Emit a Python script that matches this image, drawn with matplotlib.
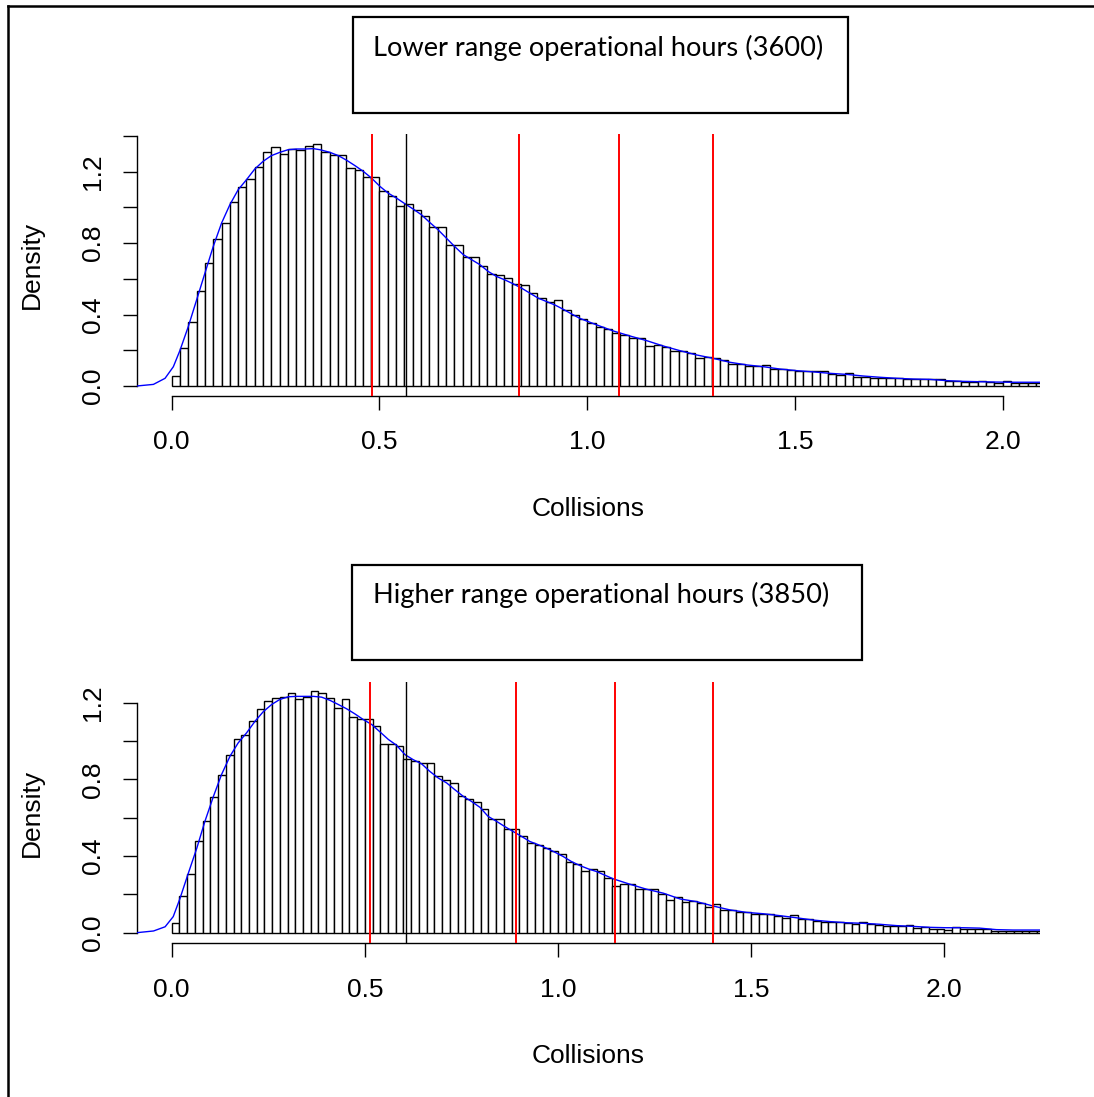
import numpy as np
import matplotlib
matplotlib.use("Agg")
import matplotlib.pyplot as plt
from matplotlib.patches import Rectangle
from matplotlib.lines import Line2D

plt.rcParams['font.family'] = ['Liberation Sans', 'DejaVu Sans']

# ---------------- data ----------------
bin_width = 0.02

top_density = [0.056, 0.211, 0.359, 0.533, 0.688, 0.824, 0.914, 1.028, 1.114, 1.161,
               1.224, 1.308, 1.338, 1.301, 1.327, 1.320, 1.346, 1.355, 1.308, 1.293,
               1.293, 1.219, 1.207, 1.170, 1.170, 1.093, 1.065, 1.006, 1.021, 0.983,
               0.953, 0.890, 0.890, 0.789, 0.789, 0.725, 0.725, 0.673, 0.628, 0.621,
               0.602, 0.572, 0.568, 0.520, 0.490, 0.471, 0.479, 0.426, 0.396, 0.374,
               0.355, 0.333, 0.318, 0.295, 0.288, 0.269, 0.269, 0.224, 0.228, 0.217,
               0.198, 0.194, 0.183, 0.157, 0.164, 0.157, 0.146, 0.123, 0.123, 0.112,
               0.112, 0.120, 0.097, 0.093, 0.090, 0.082, 0.082, 0.082, 0.086, 0.067,
               0.064, 0.075, 0.052, 0.052, 0.045, 0.045, 0.045, 0.045, 0.037, 0.037,
               0.037, 0.037, 0.037, 0.026, 0.026, 0.022, 0.022, 0.030, 0.022, 0.019,
               0.030, 0.019, 0.019, 0.019, 0.019]

bottom_density = [0.049, 0.194, 0.305, 0.476, 0.581, 0.706, 0.825, 0.926, 1.013, 1.031,
                  1.104, 1.165, 1.208, 1.226, 1.229, 1.250, 1.219, 1.229, 1.261, 1.250,
                  1.226, 1.173, 1.217, 1.128, 1.114, 1.116, 1.079, 0.985, 0.985, 0.976,
                  0.908, 0.898, 0.884, 0.884, 0.820, 0.797, 0.779, 0.713, 0.696, 0.680,
                  0.643, 0.595, 0.595, 0.542, 0.539, 0.504, 0.469, 0.455, 0.441, 0.424,
                  0.413, 0.368, 0.361, 0.323, 0.331, 0.323, 0.288, 0.246, 0.253, 0.253,
                  0.228, 0.228, 0.228, 0.202, 0.169, 0.187, 0.159, 0.166, 0.155, 0.134,
                  0.152, 0.120, 0.117, 0.106, 0.106, 0.096, 0.096, 0.099, 0.089, 0.075,
                  0.092, 0.071, 0.071, 0.061, 0.054, 0.054, 0.054, 0.051, 0.047, 0.058,
                  0.047, 0.040, 0.037, 0.033, 0.033, 0.040, 0.026, 0.030, 0.019, 0.019,
                  0.016, 0.030, 0.019, 0.019, 0.019, 0.019, 0.009, 0.009, 0.009, 0.009,
                  0.009, 0.009, 0.009]

top_curve_x = [-0.084, -0.044, -0.016, 0.004, 0.020, 0.040, 0.060, 0.080, 0.100, 0.120,
               0.140, 0.160, 0.180, 0.200, 0.220, 0.240, 0.260, 0.280, 0.301, 0.321,
               0.341, 0.357, 0.381, 0.401, 0.421, 0.441, 0.461, 0.481, 0.501, 0.521,
               0.541, 0.561, 0.581, 0.601, 0.621, 0.641, 0.661, 0.681, 0.702, 0.722,
               0.742, 0.762, 0.782, 0.802, 0.822, 0.842, 0.862, 0.882, 0.902, 0.922,
               0.942, 0.962, 0.982, 1.003, 1.023, 1.063, 1.103, 1.143, 1.183, 1.223,
               1.263, 1.303, 1.343, 1.384, 1.424, 1.464, 1.504, 1.544, 1.584, 1.624,
               1.664, 1.704, 1.745, 1.785, 1.825, 1.865, 1.905, 1.945, 1.985, 2.025,
               2.090]
top_curve_y = [0.000, 0.009, 0.043, 0.108, 0.200, 0.333, 0.482, 0.632, 0.781, 0.912,
               1.015, 1.099, 1.155, 1.215, 1.258, 1.290, 1.308, 1.323, 1.327, 1.327,
               1.329, 1.323, 1.308, 1.290, 1.264, 1.234, 1.202, 1.164, 1.118, 1.080,
               1.052, 1.021, 0.991, 0.959, 0.916, 0.875, 0.828, 0.781, 0.735, 0.707,
               0.679, 0.641, 0.613, 0.594, 0.572, 0.548, 0.520, 0.492, 0.473, 0.454,
               0.430, 0.404, 0.379, 0.360, 0.342, 0.308, 0.280, 0.254, 0.224, 0.198,
               0.174, 0.155, 0.133, 0.118, 0.108, 0.095, 0.086, 0.079, 0.071, 0.065,
               0.056, 0.049, 0.043, 0.039, 0.037, 0.030, 0.026, 0.024, 0.022, 0.021,
               0.021]

bottom_curve_x = [-0.091, -0.047, -0.017, 0.004, 0.021, 0.043, 0.065, 0.086, 0.108, 0.129,
                  0.151, 0.172, 0.194, 0.216, 0.237, 0.259, 0.280, 0.302, 0.323, 0.345,
                  0.367, 0.388, 0.410, 0.431, 0.453, 0.474, 0.496, 0.518, 0.539, 0.561,
                  0.582, 0.604, 0.625, 0.647, 0.668, 0.690, 0.712, 0.733, 0.755, 0.776,
                  0.798, 0.819, 0.841, 0.862, 0.884, 0.906, 0.927, 0.949, 0.970, 0.992,
                  1.013, 1.035, 1.057, 1.081, 1.100, 1.143, 1.186, 1.229, 1.273, 1.316,
                  1.359, 1.402, 1.445, 1.488, 1.531, 1.574, 1.617, 1.660, 1.704, 1.747,
                  1.790, 1.833, 1.876, 1.919, 1.962, 2.005, 2.048, 2.091, 2.135, 2.178,
                  2.248]
bottom_curve_y = [0.000, 0.009, 0.031, 0.084, 0.176, 0.310, 0.441, 0.581, 0.711, 0.825,
                  0.921, 0.990, 1.043, 1.104, 1.153, 1.191, 1.217, 1.231, 1.233, 1.233,
                  1.233, 1.229, 1.212, 1.191, 1.168, 1.142, 1.112, 1.086, 1.048, 1.008,
                  0.978, 0.929, 0.903, 0.881, 0.842, 0.807, 0.781, 0.746, 0.711, 0.685,
                  0.654, 0.607, 0.581, 0.554, 0.528, 0.502, 0.476, 0.459, 0.441, 0.420,
                  0.398, 0.371, 0.350, 0.331, 0.319, 0.281, 0.253, 0.227, 0.206, 0.176,
                  0.162, 0.139, 0.119, 0.106, 0.099, 0.089, 0.078, 0.066, 0.058, 0.052,
                  0.049, 0.044, 0.037, 0.033, 0.028, 0.026, 0.026, 0.024, 0.016, 0.014,
                  0.014]

top_red_lines = [0.483, 0.836, 1.076, 1.303]
top_black_lines = [0.565]
bottom_red_lines = [0.514, 0.891, 1.147, 1.401]
bottom_black_lines = [0.607]

x_ticks = [0.0, 0.5, 1.0, 1.5, 2.0]
x_tick_labels = ["0.0", "0.5", "1.0", "1.5", "2.0"]
top_y_ticks = [0.0, 0.2, 0.4, 0.6, 0.8, 1.0, 1.2, 1.4]
top_y_tick_labels = ["0.0", "", "0.4", "", "0.8", "", "1.2", ""]
bottom_y_ticks = [0.0, 0.2, 0.4, 0.6, 0.8, 1.0, 1.2]
bottom_y_tick_labels = ["0.0", "", "0.4", "", "0.8", "", "1.2"]

titles = ["Lower range operational hours (3600)",
          "Higher range operational hours (3850)"]
x_label = "Collisions"
y_label = "Density"

# ---------------- layout ----------------
W, H = 1094, 1097
fig = plt.figure(figsize=(W / 100, H / 100), dpi=100)


def fx(px):
    return px / W


def fy(py):
    return 1 - py / H


def px_rect(l, t, r, b):
    return [l / W, 1 - b / H, (r - l) / W, (b - t) / H]


panels = [
    dict(rect=(137, 134, 1040, 395.5), xlim=(-0.0835, 2.0898), ylim=(-0.0532, 1.411),
         dens=top_density, cx=top_curve_x, cy=top_curve_y,
         red=top_red_lines, black=top_black_lines,
         yticks=top_y_ticks, ylabels=top_y_tick_labels, ybound=(0, 1.4),
         box=(353, 17, 848, 112.5), title=titles[0], title_base=56,
         ylab_y=265, xlab_base=516),
    dict(rect=(137, 682, 1040, 943), xlim=(-0.0898, 2.2477), ylim=(-0.0537, 1.308),
         dens=bottom_density, cx=bottom_curve_x, cy=bottom_curve_y,
         red=bottom_red_lines, black=bottom_black_lines,
         yticks=bottom_y_ticks, ylabels=bottom_y_tick_labels, ybound=(0, 1.2),
         box=(352, 565, 862, 660), title=titles[1], title_base=603,
         ylab_y=812.5, xlab_base=1063),
]

tick_fs = 19
title_texts = []
for p in panels:
    ax = fig.add_axes(px_rect(*p['rect']))
    lefts = np.arange(len(p['dens'])) * bin_width
    ax.bar(lefts, p['dens'], width=bin_width, align='edge', color='white',
           edgecolor='black', linewidth=1.0, zorder=1)
    ax.plot(p['cx'], p['cy'], color='blue', lw=1.0, zorder=3)
    for v in p['red']:
        ax.axvline(v, color='red', lw=1.4, zorder=4)
    for v in p['black']:
        ax.axvline(v, color='black', lw=1.0, zorder=4)
    ax.set_xlim(*p['xlim'])
    ax.set_ylim(*p['ylim'])
    for s in ['top', 'right']:
        ax.spines[s].set_visible(False)
    ax.spines['bottom'].set_bounds(x_ticks[0], x_ticks[-1])
    ax.spines['left'].set_bounds(*p['ybound'])
    ax.spines['bottom'].set_linewidth(1.0)
    ax.spines['left'].set_linewidth(1.0)
    ax.set_xticks(x_ticks, x_tick_labels)
    ax.set_yticks(p['yticks'], p['ylabels'])
    ax.tick_params(axis='both', direction='out', length=10, width=1.0,
                   labelsize=tick_fs, colors='black')
    ax.tick_params(axis='x', pad=15)
    ax.tick_params(axis='y', pad=13, labelrotation=90)
    for lab in ax.get_yticklabels():
        lab.set_verticalalignment('center')
    ax.patch.set_visible(False)

    fig.text(fx(31.5), fy(p['ylab_y']), y_label, rotation=90, ha='center',
             va='center', fontsize=tick_fs)
    fig.text(fx(588.5), fy(p['xlab_base']), x_label, ha='center',
             va='baseline', fontsize=tick_fs)

    l, t, r, b = p['box']
    fig.add_artist(Rectangle((fx(l), fy(b)), (r - l) / W, (b - t) / H,
                             transform=fig.transFigure, fill=False,
                             edgecolor='black', lw=1.6))
    tt = fig.text(fx(373), fy(p['title_base']), p['title'], ha='left',
                  va='baseline', fontsize=18, family=['Lato', 'DejaVu Sans'])
    title_texts.append(tt)

# fit title font size to the measured width of the reference text
renderer = fig.canvas.get_renderer()
w0 = title_texts[0].get_window_extent(renderer).width
scale = 452.0 / w0
for tt in title_texts:
    tt.set_fontsize(18 * scale)

# outer frame (left and top edges visible in the reference)
fig.add_artist(Line2D([fx(8), fx(8)], [0, fy(6)], transform=fig.transFigure,
                      color='black', lw=1.8))
fig.add_artist(Line2D([fx(8), 1], [fy(6), fy(6)], transform=fig.transFigure,
                      color='black', lw=1.8))

fig.savefig("out.png", dpi=100)
